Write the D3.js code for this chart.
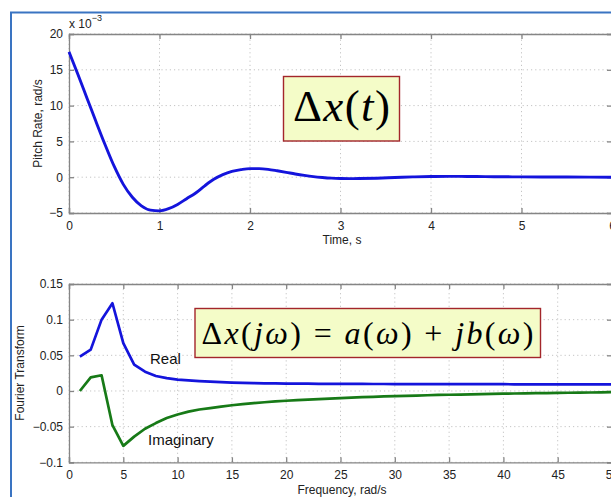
<!DOCTYPE html>
<html><head><meta charset="utf-8">
<script src="https://cdn.jsdelivr.net/npm/d3@7/dist/d3.min.js"></script>
<style>
html,body{margin:0;padding:0;background:#fff;overflow:hidden;}
svg{display:block;font-family:"Liberation Sans",Arial,Helvetica,sans-serif;}
</style></head>
<body>
<svg id="chart" width="611" height="497"></svg>
<script>
// ---- Top plot: pitch rate time history (x 10^-3 rad/s) ----
const timeS = [0,0.1,0.2,0.3,0.4,0.5,0.6,0.7,0.8,0.9,1.0,1.1,1.2,1.3,1.4,1.5,1.6,1.7,1.8,1.9,2.0,2.1,2.2,2.3,2.4,2.5,2.6,2.7,2.8,2.9,3.0,3.1,3.2,3.4,3.6,3.8,4.0,4.2,4.4,4.6,4.8,5.0,5.5,6.0];
const pitchRate = [17.5,14.3,11.0,7.7,4.5,1.5,-1.0,-2.8,-4.0,-4.6,-4.7,-4.4,-3.8,-3.0,-2.2,-1.2,-0.3,0.35,0.8,1.05,1.2,1.2,1.1,0.9,0.68,0.45,0.25,0.08,-0.04,-0.13,-0.18,-0.2,-0.19,-0.14,-0.05,0.04,0.1,0.12,0.1,0.08,0.06,0.04,0.02,0.0];
const timeTicks = [0,1,2,3,4,5,6];
const timeTickLabels = ["0","1","2","3","4","5","6"];
const rateTicks = [-5,0,5,10,15,20];
const rateTickLabels = ["\u22125","0","5","10","15","20"];

// ---- Bottom plot: Fourier transform ----
const freq = d3.range(1,51);
const realPart = [0.048,0.058,0.100,0.123,0.067,0.037,0.027,0.021,0.018,0.016,
  0.0148,0.0138,0.0130,0.0123,0.0118,0.0114,0.0110,0.0108,0.0106,0.0104,
  0.0103,0.0102,0.0101,0.0100,0.0100,0.0099,0.0099,0.0098,0.0098,0.0097,
  0.0097,0.0096,0.0096,0.0096,0.0096,0.0095,0.0095,0.0095,0.0095,0.0095,
  0.0094,0.0094,0.0094,0.0094,0.0094,0.0094,0.0094,0.0094,0.0094,0.0094];
const imagPart = [0.0,0.019,0.022,-0.048,-0.077,-0.064,-0.053,-0.045,-0.038,-0.033,
  -0.029,-0.026,-0.024,-0.022,-0.020,-0.0185,-0.017,-0.0158,-0.0147,-0.0137,
  -0.0128,-0.0120,-0.0113,-0.0106,-0.0099,-0.0093,-0.0087,-0.0082,-0.0077,-0.0072,
  -0.0068,-0.0064,-0.0060,-0.0056,-0.0053,-0.0050,-0.0047,-0.0044,-0.0041,-0.0038,
  -0.0035,-0.0033,-0.0031,-0.0029,-0.0027,-0.0025,-0.0023,-0.0021,-0.0019,-0.0017];
const freqTicks = [0,5,10,15,20,25,30,35,40,45,50];
const freqTickLabels = ["0","5","10","15","20","25","30","35","40","45","50"];
const ftTicks = [-0.1,-0.05,0,0.05,0.1,0.15];
const ftTickLabels = ["\u22120.1","\u22120.05","0","0.05","0.1","0.15"];

const svg = d3.select("#chart");
const AX = "#858585", GRID = "#c4c4c4";

// slide frame
svg.append("line").attr("x1",11).attr("x2",11).attr("y1",12).attr("y2",497).attr("stroke","#3a74c2").attr("stroke-width",2);
svg.append("line").attr("x1",10).attr("x2",611).attr("y1",12.5).attr("y2",12.5).attr("stroke","#3a74c2").attr("stroke-width",2);

function panel(xs, ys, xt, xtl, yt, ytl) {
  const [x0,x1] = xs.range(), [y0,y1] = ys.range();
  const g = svg.append("g");
  g.append("g").selectAll("line").data(xt).join("line")
    .attr("x1",d=>xs(d)).attr("x2",d=>xs(d)).attr("y1",y0).attr("y2",y1)
    .attr("stroke",GRID).attr("stroke-dasharray","1.2,3").attr("stroke-width",1);
  g.append("g").selectAll("line").data(yt).join("line")
    .attr("y1",d=>ys(d)).attr("y2",d=>ys(d)).attr("x1",x0).attr("x2",x1)
    .attr("stroke",GRID).attr("stroke-dasharray","1.2,3").attr("stroke-width",1);
  const ax = d3.axisBottom(xs).tickValues(xt).tickFormat((d,i)=>xtl[i]).tickSize(-5).tickPadding(8);
  const axT = d3.axisTop(xs).tickValues(xt).tickFormat("").tickSize(-5);
  const ay = d3.axisLeft(ys).tickValues(yt).tickFormat((d,i)=>ytl[i]).tickSize(-5).tickPadding(6);
  const ayR = d3.axisRight(ys).tickValues(yt).tickFormat("").tickSize(-5);
  const gx = g.append("g").attr("transform",`translate(0,${y0})`).call(ax);
  const gxt = g.append("g").attr("transform",`translate(0,${y1})`).call(axT);
  const gy = g.append("g").attr("transform",`translate(${x0},0)`).call(ay);
  const gyr = g.append("g").attr("transform",`translate(${x1},0)`).call(ayR);
  [gx,gxt,gy,gyr].forEach(a=>{
    a.select(".domain").attr("stroke",AX).attr("stroke-width",1.3);
    a.selectAll(".tick line").attr("stroke",AX).attr("stroke-width",1.3);
    a.selectAll("text").attr("fill","#222").attr("font-size",12).attr("font-family","Liberation Sans, Arial, sans-serif");
  });
  return g;
}

// top panel
const xT = d3.scaleLinear().domain([0,6]).range([69,612]);
const yT = d3.scaleLinear().domain([-5,20]).range([213,34]);
panel(xT,yT,timeTicks,timeTickLabels,rateTicks,rateTickLabels);
svg.append("path").datum(timeS.map((t,i)=>[t,pitchRate[i]]))
  .attr("d", d3.line().x(d=>xT(d[0])).y(d=>yT(d[1])).curve(d3.curveMonotoneX))
  .attr("fill","none").attr("stroke","#1414dc").attr("stroke-width",2.9).attr("stroke-linejoin","round");

const exp = svg.append("text").attr("x",69).attr("y",28).attr("font-size",12).attr("fill","#222");
exp.append("tspan").text("x 10");
exp.append("tspan").attr("dy",-7).attr("font-size",9).text("\u22123");

svg.append("text").attr("x",342).attr("y",244).attr("text-anchor","middle").attr("font-size",12).attr("fill","#222").text("Time, s");
svg.append("text").attr("transform","translate(42,123.5) rotate(-90)").attr("text-anchor","middle").attr("font-size",12).attr("fill","#222").text("Pitch Rate, rad/s");

// bottom panel
const xB = d3.scaleLinear().domain([0,50]).range([69,612]);
const yB = d3.scaleLinear().domain([-0.1,0.15]).range([462.3,284]);
panel(xB,yB,freqTicks,freqTickLabels,ftTicks,ftTickLabels);
const lineB = vals => d3.line().x((d,i)=>xB(freq[i])).y(d=>yB(d))(vals);
svg.append("path").attr("d",lineB(realPart)).attr("fill","none").attr("stroke","#1414dc").attr("stroke-width",2.7).attr("stroke-linejoin","round");
svg.append("path").attr("d",lineB(imagPart)).attr("fill","none").attr("stroke","#177a17").attr("stroke-width",2.7).attr("stroke-linejoin","round");

svg.append("text").attr("x",150).attr("y",364).attr("font-size",15).attr("fill","#111").text("Real");
svg.append("text").attr("x",148).attr("y",445).attr("font-size",15).attr("fill","#111").text("Imaginary");
svg.append("text").attr("x",342).attr("y",494).attr("text-anchor","middle").attr("font-size",12).attr("fill","#222").text("Frequency, rad/s");
svg.append("text").attr("transform","translate(24,373) rotate(-90)").attr("text-anchor","middle").attr("font-size",12).attr("fill","#222").text("Fourier Transform");

// formula boxes
const BOXFILL = "#f4fcc8", BOXLINE = "#a3262b";
function formula(bx,by,bw,bh,tx,ty,fs,tl,parts){
  svg.append("rect").attr("x",bx).attr("y",by).attr("width",bw).attr("height",bh)
    .attr("fill",BOXFILL).attr("stroke",BOXLINE).attr("stroke-width",1.4);
  const t = svg.append("text").attr("x",tx).attr("y",ty).attr("font-size",fs)
    .attr("font-family","Liberation Serif, 'Times New Roman', serif").attr("fill","#000")
    .attr("textLength",tl).attr("lengthAdjust","spacing");
  parts.forEach(p=>t.append("tspan").attr("font-style",p[1]?"italic":"normal").text(p[0]));
}
formula(283.5,76.5,116,64.5,293,121,45,97,[["\u0394",0],["x",1],["(",0],["t",1],[")",0]]);
formula(195,308.5,345.5,49,201.5,344,32,332,[["\u0394",0],["x",1],["(",0],["j\u03c9",1],[")",0],[" = ",0],["a",1],["(",0],["\u03c9",1],[")",0],[" + ",0],["jb",1],["(",0],["\u03c9",1],[")",0]]);
</script>
</body></html>
